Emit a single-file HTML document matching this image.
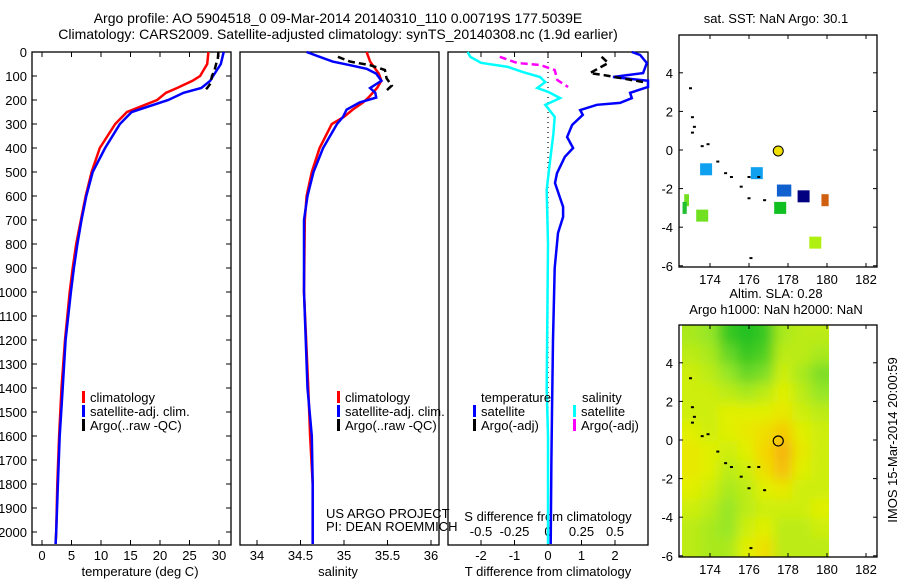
<!DOCTYPE html>
<html><head><meta charset="utf-8"><style>
html,body{margin:0;padding:0;background:#fff;}
svg{display:block;font-family:"Liberation Sans",sans-serif;}
</style></head><body>
<svg id="fig" width="900" height="580" viewBox="0 0 900 580">
<text x="338" y="23" font-size="14" text-anchor="middle">Argo profile: AO 5904518_0 09-Mar-2014 20140310_110 0.00719S 177.5039E</text>
<text x="338" y="39" font-size="14" text-anchor="middle">Climatology: CARS2009. Satellite-adjusted climatology: synTS_20140308.nc (1.9d earlier)</text>
<g id="g"></g>
</svg>
<script>
// ---------- data ----------
const tDepth   = [0,50,100,120,150,170,200,250,300,400,500,600,700,800,900,1000,1200,1400,1600,1800,2000,2050];
const tClim    = [28.2,28.0,26.8,25.5,22.9,21.0,19.5,14.4,12.4,9.8,8.4,7.4,6.6,5.8,5.2,4.7,3.9,3.3,2.9,2.6,2.4,2.3];
const tSat     = [30.8,30.3,29.0,28.5,27.0,24.0,21.4,15.2,13.2,10.7,8.6,7.5,6.7,6.0,5.4,4.9,4.0,3.5,3.0,2.7,2.4,2.3];
const argoDepthT = [0,30,50,80,100,130,150,165];
const argoT      = [29.9,29.8,29.5,29.2,28.8,28.6,28.0,27.4];

const sDepth = [0,20,40,55,70,90,120,150,170,190,210,240,270,300,400,500,600,700,1000,1400,1600,1800,2050];
const sClim  = [35.26,35.28,35.3,35.33,35.36,35.4,35.43,35.38,35.33,35.28,35.22,35.1,35.0,34.86,34.72,34.63,34.57,34.55,34.54,34.59,34.61,34.64,34.64];
const sSat   = [34.57,34.72,34.87,35.07,35.26,35.37,35.43,35.3,35.36,35.37,35.18,35.03,34.99,34.92,34.76,34.65,34.58,34.54,34.54,34.58,34.63,34.64,34.64];
const argoDepthS = [20,40,55,75,110,140,160];
const argoS      = [34.93,35.07,35.3,35.47,35.49,35.55,35.49];

const dTDepth = [0,12,46,88,104,120,146,170,192,212,220,242,262,304,354,400,437,505,546,645,687,754,900,1200,1500,1700,2050];
const dTSat   = [2.5,2.75,2.95,2.84,1.94,3.2,3.2,2.45,2.5,2.15,1.46,0.96,1.04,0.72,0.57,0.75,0.5,0.27,0.21,0.45,0.45,0.3,0.2,0.15,0.12,0.1,0.08];
const dTArgoDepth = [20,46,88,96,128];
const dTArgo      = [1.6,1.8,1.25,1.65,2.95];
const dSDepth = [0,20,45,62,83,104,125,150,166,192,220,270,340,480,575,800,1400,1600,2050];
const dSSat   = [-0.6,-0.58,-0.5,-0.3,-0.19,-0.06,-0.02,-0.08,0,0.09,-0.02,0.05,0.04,0.01,-0.01,0,-0.01,0,0];
const dSArgoDepth = [20,46,54,75,117,146];
const dSArgo      = [-0.36,-0.23,-0.06,0.05,0.07,0.15];

const tTicks = [0,5,10,15,20,25,30];
const sTicks = [34,34.5,35,35.5,36];
const sTickLabels = ["34","34.5","35","35.5","36"];
const dTTicks = [-2,-1,0,1,2];
const dSTicks = [-0.5,-0.25,0,0.25,0.5];
const dSTickLabels = ["-0.5","-0.25","0","0.25","0.5"];
const depthTicks = [0,100,200,300,400,500,600,700,800,900,1000,1100,1200,1300,1400,1500,1600,1700,1800,1900,2000];

// SST map observations
const sstLon = [173.8,176.4,172.8,172.7,173.6,177.8,178.8,179.9,177.6,179.4];
const sstLat = [-1.0,-1.2,-2.6,-3.0,-3.4,-2.1,-2.4,-2.6,-3.0,-4.8];
const sstCol = ["#10a0f0","#10a0f0","#70e020","#20c030","#70e020","#1060d0","#000080","#d06010","#10c020","#b0f010"];
const sstW   = [1,1,0.4,0.35,1,1.2,1,0.6,1,1];
const mapLonTicks = [174,176,178,180,182];
const mapLatTicks = [4,2,0,-2,-4,-6];
const argoLon = 177.5, argoLat = -0.05;

// SLA grid (rows from 6N downward, columns from 172.5E eastward)
const slaGrid = [
 [0.6,0.5,0.1,0.0,0.1,0.6,0.7,0.7],
 [0.7,0.6,0.3,0.1,0.2,0.7,0.7,0.6],
 [0.8,0.7,0.5,0.3,0.4,0.8,0.6,0.4],
 [0.8,0.8,0.7,0.6,0.7,0.9,0.7,0.5],
 [0.8,0.8,0.9,0.9,0.9,1.0,0.8,0.7],
 [0.9,0.8,0.9,1.0,1.1,1.3,0.9,0.8],
 [1.0,0.9,0.8,0.9,1.2,1.5,1.0,0.8],
 [1.0,0.9,0.7,0.8,1.1,1.4,0.9,0.8],
 [0.9,0.8,0.6,0.7,0.9,1.0,0.8,0.8],
 [0.8,0.7,0.5,0.7,0.8,0.8,0.8,0.9],
 [0.7,0.6,0.5,0.8,0.9,0.7,0.7,0.8],
 [0.7,0.6,0.6,0.9,1.1,0.7,0.7,0.7]];

// ---------- helpers ----------
const NS="http://www.w3.org/2000/svg";
const G=document.getElementById('g');
function el(tag,attrs,parent,txt){const e=document.createElementNS(NS,tag);for(const k in attrs)e.setAttribute(k,attrs[k]);if(txt!==undefined)e.textContent=txt;(parent||G).appendChild(e);return e;}
const yD = d => 52 + d*0.24;
const xT = t => 42 + t*5.9;
const xS = s => 257 + (s-34)*87;
const xDT = t => Math.max(448, Math.min(648, 548 + t*33.5));
const xDS = s => Math.max(448, Math.min(648, 548 + s*134));
const mx = lon => 710 + (lon-174)*19.5;
const my1 = lat => 150 - lat*19.3;
const my2 = lat => 440 - lat*19.3;

function line(xs,ys,fx,color,w,dash,name){
  const pts=xs.map((v,i)=>fx(v).toFixed(1)+','+yD(ys[i]).toFixed(1)).join(' ');
  const p=el('polyline',{points:pts,fill:'none',stroke:color,'stroke-width':w,'stroke-dasharray':dash||'none'});
  
  
}
function box(x,y,w,h,name){
  const r=el('rect',{x:x,y:y,width:w,height:h,fill:'none',stroke:'#000','stroke-width':1.3});
  
  
}
function txt(x,y,s,size,anchor,name,col){
  const t=el('text',{x:x,y:y,'font-size':size,'text-anchor':anchor||'start',fill:col||'#000'},G,s);
  
  
  return t;
}
function tk(x1,y1,x2,y2){el('line',{x1,y1,x2,y2,stroke:'#000','stroke-width':1});}

// ---------- panel 1 temperature ----------
box(32,52,199,493,'temperature-panel');
depthTicks.forEach(d=>{tk(32,yD(d),37,yD(d));tk(226,yD(d),231,yD(d));
  txt(27,yD(d)+5,String(d),13,'end','depth-tick-label');});
tTicks.forEach(t=>{tk(xT(t),545,xT(t),540);tk(xT(t),52,xT(t),57);txt(xT(t),560,String(t),13,'middle','temperature-tick-label');});
txt(140,576,'temperature (deg C)',13,'middle','temperature-axis-title');
line(tClim,tDepth,xT,'#f00',2.5,null,'temperature-climatology-line');
line(tSat,tDepth,xT,'#00f',2.5,null,'temperature-satellite-line');
line(argoT,argoDepthT,xT,'#000',2.5,'7,4','temperature-argo-line');
[['climatology','#f00'],['satellite-adj. clim.','#00f'],['Argo(..raw -QC)','#000']].forEach((l,i)=>{
  el('rect',{x:82,y:391+i*14,width:3,height:12,fill:l[1]});
  txt(90,402+i*14,l[0],13,'start','temperature-legend-entry');});

// ---------- panel 2 salinity ----------
box(240,52,199,493,'salinity-panel');
sTicks.forEach((s,i)=>{tk(xS(s),545,xS(s),540);txt(xS(s),560,sTickLabels[i],13,'middle','salinity-tick-label');});
txt(338,576,'salinity',13,'middle','salinity-axis-title');
line(sClim,sDepth,xS,'#f00',2.5,null,'salinity-climatology-line');
line(sSat,sDepth,xS,'#00f',2.5,null,'salinity-satellite-line');
line(argoS,argoDepthS,xS,'#000',2.5,'7,4','salinity-argo-line');
[['climatology','#f00'],['satellite-adj. clim.','#00f'],['Argo(..raw -QC)','#000']].forEach((l,i)=>{
  el('rect',{x:337,y:391+i*14,width:3,height:12,fill:l[1]});
  txt(345,402+i*14,l[0],13,'start','salinity-legend-entry');});
txt(326,518,'US ARGO PROJECT',13,'start','project-label');
txt(326,531,'PI: DEAN ROEMMICH',13,'start','pi-label');

// ---------- panel 3 differences ----------
box(448,52,200,493,'difference-panel');
el('line',{x1:548,y1:52,x2:548,y2:545,stroke:'#000','stroke-width':1.2,'stroke-dasharray':'1,4'});
dTTicks.forEach(t=>{tk(xDT(t),545,xDT(t),540);txt(xDT(t),560,String(t),13,'middle','t-difference-tick-label');});
dSTicks.forEach((s,i)=>{tk(xDS(s),52,xDS(s),57);txt(xDS(s),536,dSTickLabels[i],13,'middle','s-difference-tick-label');});
txt(548,521,'S difference from climatology',13,'middle','s-difference-axis-title');
txt(548,576,'T difference from climatology',13,'middle','t-difference-axis-title');
line(dSSat,dSDepth,xDS,'#0ff',2.5,null,'salinity-satellite-difference-line');
line(dTSat,dTDepth,xDT,'#00f',2.5,null,'temperature-satellite-difference-line');
line(dTArgo,dTArgoDepth,xDT,'#000',2.5,'7,4','temperature-argo-difference-line');
line(dSArgo,dSArgoDepth,xDS,'#f0f',2.5,'7,4','salinity-argo-difference-line');
txt(481,402,'temperature',13,'start','difference-legend-header');
txt(582,402,'salinity',13,'start','difference-legend-header');
[['satellite','#00f',473],['Argo(-adj)','#000',473],['satellite','#0ff',573],['Argo(-adj)','#f0f',573]].forEach((l,i)=>{
  const r=i%2;el('rect',{x:l[2],y:405+r*14,width:3,height:12,fill:l[1]});
  txt(l[2]+8,416+r*14,l[0],13,'start','difference-legend-entry');});

// ---------- maps ----------
function mapAxes(top,bottom,myf,name){
  box(679,top,198,bottom-top,name);
  mapLonTicks.forEach(l=>{tk(mx(l),bottom,mx(l),bottom-4);tk(mx(l),top,mx(l),top+4);
    txt(mx(l),bottom+17,String(l),13,'middle','map-longitude-tick-label');});
  mapLatTicks.forEach(l=>{tk(679,myf(l),683,myf(l));tk(877,myf(l),873,myf(l));
    txt(673,myf(l)+5,String(l),13,'end','map-latitude-tick-label');});
}
const coast=[[173.0,3.2],[173.1,1.7],[173.2,1.2],[173.1,0.9],[173.6,0.2],[173.9,0.3],[174.4,-0.6],[174.8,-1.2],[175.1,-1.4],[175.6,-1.9],[176.0,-1.4],[176.5,-1.4],[176.0,-2.5],[176.8,-2.6],[176.1,-5.6]];
function coastDraw(myf){coast.forEach(c=>{el('rect',{x:mx(c[0])-1.5,y:myf(c[1])-1,width:3,height:2,fill:'#000'});});}

// map 1 SST
txt(776,23,'sat. SST: NaN Argo: 30.1',13,'middle','sst-map-title');
sstLon.forEach((lo,i)=>{const w=12*sstW[i];
  const r=el('rect',{x:mx(lo)-w/2,y:my1(sstLat[i])-6,width:w,height:12,fill:sstCol[i]});
  
  });
coastDraw(my1);
el('circle',{cx:mx(argoLon),cy:my1(argoLat),r:5,fill:'#f0e000',stroke:'#000','stroke-width':1});
mapAxes(35,267,my1,'sst-map-frame');

// map 2 SLA
txt(776,298,'Altim. SLA: 0.28',13,'middle','sla-map-title');
txt(776,314,'Argo h1000: NaN h2000: NaN',13,'middle','sla-map-subtitle');
const stops=[[0,[32,192,32]],[0.5,[150,230,40]],[0.9,[225,240,0]],[1.2,[245,215,0]],[1.6,[245,165,20]]];
function col(v){for(let i=1;i<stops.length;i++){if(v<=stops[i][0]){const a=stops[i-1],b=stops[i],f=(v-a[0])/(b[0]-a[0]);
  return 'rgb('+a[1].map((c,k)=>Math.round(c+(b[1][k]-c)*f)).join(',')+')';}}return 'rgb(245,165,20)';}
const defs=el('defs',{});
const cp=el('clipPath',{id:'slaclip'},defs);el('rect',{x:682,y:325,width:147,height:232},cp);
const fl=el('filter',{id:'blur',x:'-10%',y:'-10%',width:'120%',height:'120%'},defs);el('feGaussianBlur',{stdDeviation:6},fl);
const hg=el('g',{'clip-path':'url(#slaclip)'});
const hg2=el('g',{filter:'url(#blur)'},hg);
const cw=147/8, ch=232/12;
slaGrid.forEach((row,r)=>row.forEach((v,c)=>{
  const cell=el('rect',{x:682+c*cw-(c==0?20:0),y:325+r*ch-(r==0?20:0),width:cw+0.5+(c==0||c==7?20:0),height:ch+0.5+(r==0||r==11?20:0),fill:col(v)},hg2);
  
  
}));
coastDraw(my2);
el('circle',{cx:mx(argoLon),cy:my2(argoLat),r:5,fill:'none',stroke:'#000','stroke-width':1.2});
mapAxes(325,557,my2,'sla-map-frame');
const rt=txt(0,0,'IMOS 15-Mar-2014 20:00:59',13,'middle','timestamp-label');
rt.setAttribute('transform','translate(897,440) rotate(-90)');
</script>
</body></html>
